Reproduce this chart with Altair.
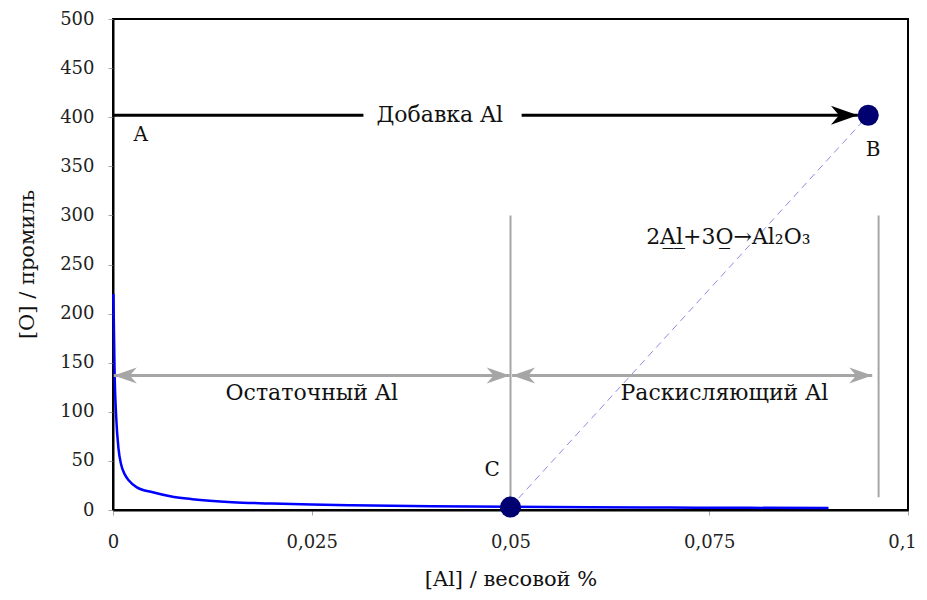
import altair as alt
import pandas as pd

# --- data ---
curve_al = [0.00005, 0.0002, 0.0004, 0.0007, 0.001, 0.0015, 0.002, 0.003, 0.005,
            0.0075, 0.01, 0.015, 0.02, 0.025, 0.03, 0.04, 0.05, 0.06, 0.07, 0.08, 0.09]
curve_o = [220, 140, 95, 62, 47, 36, 30, 23, 18,
           13.5, 11, 8, 6.5, 5.5, 4.8, 3.8, 3.2, 2.8, 2.5, 2.2, 2.0]

point_names = ["B", "C"]
point_al = [0.095, 0.05]
point_o = [402, 3]

# dashed stoichiometric line C -> B
stoich_al = [0.05, 0.095]
stoich_o = [3, 402]

# black "add Al" arrow at [O]=402, broken by the label
add_x1 = [0.0, 0.0514]
add_x2 = [0.0315, 0.0937]
add_y = 402

# gray vertical separators
vline_x = [0.05, 0.0963]
vline_top = [300, 300]
vline_bottom = [0, 13]

# gray double arrows at [O]=137
darrow_x1 = [0.0001, 0.0502]
darrow_x2 = [0.0499, 0.0955]
darrow_y = 137

# text labels
label_text = ["Добавка Al", "Остаточный Al", "Раскисляющий Al", "2A\u0332l\u0332+3O\u0332→Al₂O₃"]
label_x = [0.0411, 0.025, 0.0769, 0.0774]
label_y = [402, 119, 119, 278]
letter_text = ["A", "B", "C"]
letter_x = [0.0035, 0.0956, 0.0477]
letter_y = [382, 367, 41]

x_ticks = [0, 0.025, 0.05, 0.075, 0.1]
y_ticks = list(range(0, 501, 50))

FONT = "DejaVu Serif"
GRAY = "#a6a6a6"

xscale = alt.Scale(domain=[0, 0.1], nice=False, zero=False)
yscale = alt.Scale(domain=[0, 500], nice=False)

X = alt.X("x:Q", scale=xscale,
          axis=alt.Axis(values=x_ticks, title="[Al] / весовой %",
                        labelExpr="replace(toString(datum.value), '.', ',')",
                        labelFlush=False,
                        labelOffset={"condition": {"test": "datum.value >= 0.1", "value": -6}, "value": 0},
                        grid=False, tickColor=GRAY, tickSize=5, labelPadding=18,
                        titleY=69, titleBaseline="middle"))
Y = alt.Y("y:Q", scale=yscale,
          axis=alt.Axis(values=y_ticks, title="[O] / промиль", grid=False,
                        labelFlush=False,
                        tickColor=GRAY, tickSize=5, labelPadding=14,
                        titleX=-86, titleY=245, titleBaseline="middle"))

df_curve = pd.DataFrame({"x": curve_al, "y": curve_o})
curve = alt.Chart(df_curve).mark_line(color="#0000ff", strokeWidth=2.5, interpolate="monotone").encode(x=X, y=Y)

df_stoich = pd.DataFrame({"x": stoich_al, "y": stoich_o})
stoich = alt.Chart(df_stoich).mark_line(color="#8c8ce6", strokeWidth=1, strokeDash=[7, 5]).encode(
    x=alt.X("x:Q", scale=xscale), y=alt.Y("y:Q", scale=yscale))

df_vl = pd.DataFrame({"x": vline_x, "y": vline_top, "y2": vline_bottom})
vlines = alt.Chart(df_vl).mark_rule(color=GRAY, strokeWidth=2).encode(
    x=alt.X("x:Q", scale=xscale), y=alt.Y("y:Q", scale=yscale), y2="y2:Q")

df_da = pd.DataFrame({"x": darrow_x1, "x2": darrow_x2, "y": [darrow_y] * 2})
darrows = alt.Chart(df_da).mark_rule(color=GRAY, strokeWidth=3).encode(
    x=alt.X("x:Q", scale=xscale), x2="x2:Q", y=alt.Y("y:Q", scale=yscale))

left_head = "M0,0 L2,-0.7 L1.4,0 L2,0.7 Z"
right_head = "M0,0 L-2,-0.7 L-1.4,0 L-2,0.7 Z"

heads_l = alt.Chart(pd.DataFrame({"x": darrow_x1, "y": [darrow_y] * 2})).mark_point(
    shape=left_head, filled=True, color=GRAY, size=529, opacity=1).encode(
    x=alt.X("x:Q", scale=xscale), y=alt.Y("y:Q", scale=yscale))
heads_r = alt.Chart(pd.DataFrame({"x": darrow_x2, "y": [darrow_y] * 2})).mark_point(
    shape=right_head, filled=True, color=GRAY, size=529, opacity=1).encode(
    x=alt.X("x:Q", scale=xscale), y=alt.Y("y:Q", scale=yscale))

df_add = pd.DataFrame({"x": add_x1, "x2": add_x2, "y": [add_y] * 2})
add_line = alt.Chart(df_add).mark_rule(color="black", strokeWidth=3).encode(
    x=alt.X("x:Q", scale=xscale), x2="x2:Q", y=alt.Y("y:Q", scale=yscale))
add_head = alt.Chart(pd.DataFrame({"x": [add_x2[-1]], "y": [add_y]})).mark_point(
    shape=right_head, filled=True, color="black", size=729, opacity=1).encode(
    x=alt.X("x:Q", scale=xscale), y=alt.Y("y:Q", scale=yscale))

df_pts = pd.DataFrame({"name": point_names, "x": point_al, "y": point_o})
pts = alt.Chart(df_pts).mark_point(shape="circle", filled=True, color="#000070", size=441, opacity=1).encode(
    x=alt.X("x:Q", scale=xscale), y=alt.Y("y:Q", scale=yscale))

df_lab = pd.DataFrame({"t": label_text, "x": label_x, "y": label_y})
labels = alt.Chart(df_lab).mark_text(font=FONT, fontSize=22, color="#111111", align="center", baseline="middle").encode(
    x=alt.X("x:Q", scale=xscale), y=alt.Y("y:Q", scale=yscale), text="t:N")

df_let = pd.DataFrame({"t": letter_text, "x": letter_x, "y": letter_y})
letters = alt.Chart(df_let).mark_text(font=FONT, fontSize=20, color="#111111", align="center", baseline="middle").encode(
    x=alt.X("x:Q", scale=xscale), y=alt.Y("y:Q", scale=yscale), text="t:N")

chart = alt.layer(curve, stoich, vlines, darrows, heads_l, heads_r, add_line, add_head, pts, labels, letters).properties(
    width=795, height=491,
    autosize=alt.AutoSizeParams(type="none"),
    padding={"left": 105, "top": 11, "right": 11, "bottom": 82},
).configure_view(stroke="black", strokeWidth=2).configure_axis(
    domainColor="black", domainWidth=2, labelFont=FONT, titleFont=FONT,
    labelFontSize=18, titleFontSize=21, labelColor="#222222", titleColor="#111111",
    titleFontWeight="normal",
)

chart.save("out.html", embed_options={"renderer": "svg", "actions": False})
